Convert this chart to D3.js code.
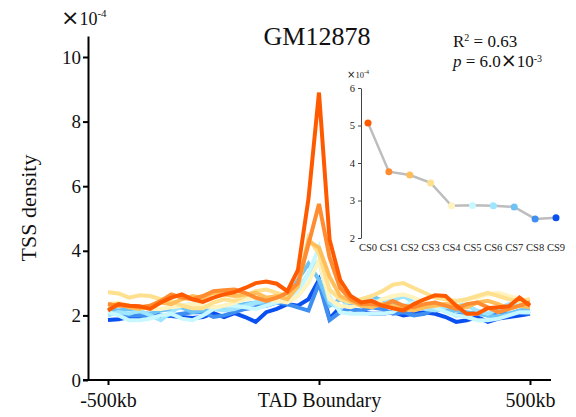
<!DOCTYPE html>
<html>
<head>
<meta charset="utf-8">
<script src="https://cdn.jsdelivr.net/npm/d3@7"></script>
<style>
  body { margin: 0; background: #fff; }
  svg { display: block; font-family: "Liberation Serif", "Times New Roman", serif; }
</style>
</head>
<body>
<svg width="576" height="417"></svg>
<script>
// TSS density profiles around TAD boundaries (x1e-4), 41 bins from -500kb to 500kb
const states = ['CS0', 'CS1', 'CS2', 'CS3', 'CS4', 'CS5', 'CS6', 'CS7', 'CS8', 'CS9'];
const stateColors = ['#ff5a00', '#ff8c30', '#ffbe5a', '#ffe08f', '#fff3c0',
                     '#c8f8ff', '#9ee6ff', '#6ec3f5', '#3f8ff2', '#0a50f0'];
const xTickLabels = ['-500kb', 'TAD Boundary', '500kb'];
const yTicks = [0, 2, 4, 6, 8, 10];

const cs0 = [2.15,2.35,2.3,2.28,2.2,2.4,2.55,2.65,2.5,2.42,2.55,2.65,2.72,2.85,3.0,3.05,2.98,2.75,3.4,5.6,8.9,4.35,3.1,2.6,2.4,2.45,2.3,2.22,2.15,2.35,2.5,2.62,2.6,2.3,2.05,2.05,2.22,2.25,2.28,2.55,2.3];
const cs1 = [2.35,2.3,2.3,2.25,2.3,2.45,2.65,2.55,2.5,2.6,2.75,2.78,2.8,2.7,2.55,2.45,2.55,2.7,3.0,4.2,5.45,3.8,2.85,2.5,2.35,2.35,2.3,2.45,2.3,2.25,2.35,2.4,2.3,2.2,2.35,2.4,2.25,2.1,2.2,2.3,2.4];
const cs2 = [2.3,2.35,2.25,2.2,2.3,2.4,2.35,2.5,2.6,2.55,2.7,2.65,2.6,2.65,2.7,2.55,2.6,2.5,2.9,4.3,4.1,3.2,2.6,2.45,2.3,2.25,2.35,2.3,2.2,2.15,2.25,2.3,2.35,2.3,2.25,2.4,2.45,2.35,2.2,2.3,2.25];
const cs3 = [2.72,2.68,2.55,2.62,2.6,2.5,2.45,2.3,2.22,2.22,2.4,2.5,2.45,2.6,2.75,2.8,2.7,2.6,2.9,4.4,3.9,2.8,2.5,2.4,2.5,2.6,2.75,2.95,3.0,2.85,2.7,2.55,2.5,2.45,2.5,2.6,2.7,2.6,2.5,2.45,2.5];
const cs4 = [2.35,2.4,2.3,2.25,2.2,2.2,2.25,2.3,2.35,2.3,2.25,2.3,2.4,2.5,2.55,2.5,2.45,2.4,2.6,3.0,3.7,2.5,2.3,2.25,2.35,2.3,2.5,2.6,2.65,2.55,2.4,2.3,2.35,2.4,2.5,2.55,2.65,2.7,2.6,2.5,2.45];
const cs5 = [2.1,2.0,1.85,1.85,1.9,2.0,2.05,1.9,1.85,2.0,2.2,2.3,2.3,2.25,2.2,2.3,2.4,2.55,2.7,3.3,4.1,2.6,2.1,2.05,2.05,2.05,2.05,2.1,2.3,2.4,2.35,2.25,2.1,2.0,1.95,1.85,1.85,1.9,2.0,2.1,2.1];
const cs6 = [2.0,2.1,2.05,2.15,2.0,1.85,2.1,2.3,2.35,2.3,2.2,2.15,2.2,2.3,2.4,2.45,2.5,2.6,2.8,3.3,3.7,2.4,2.2,2.5,2.3,2.4,2.5,2.45,2.6,2.4,2.2,2.15,2.25,2.4,2.3,2.15,2.05,2.2,2.35,2.3,2.4];
const cs7 = [2.2,2.15,2.2,2.1,2.05,2.15,2.2,2.25,2.1,2.15,2.2,2.25,2.3,2.35,2.4,2.35,2.4,2.5,3.1,3.6,3.1,2.3,2.5,2.35,2.45,2.6,2.45,2.4,2.3,2.2,2.25,2.3,2.2,2.15,2.1,2.05,2.0,1.95,2.05,2.15,2.2];
const cs8 = [2.05,2.05,2.0,2.0,1.95,2.0,2.0,2.05,2.1,2.1,1.95,2.0,2.1,2.2,2.25,2.3,2.4,2.35,2.25,2.15,3.0,1.85,2.1,2.2,2.15,2.25,2.2,2.05,2.1,2.0,2.05,2.2,2.15,2.0,2.05,2.1,2.0,2.1,2.05,2.1,2.05];
const cs9 = [1.86,1.88,1.95,1.95,2.05,2.0,1.98,1.95,1.92,1.95,2.07,1.95,2.07,1.95,1.8,2.1,2.2,2.35,2.3,2.5,3.1,1.9,2.25,2.2,2.1,2.05,2.05,2.1,2.0,2.05,2.1,2.05,1.95,1.8,1.85,1.95,1.8,1.9,1.95,2.0,2.05];
const profiles = [cs0, cs1, cs2, cs3, cs4, cs5, cs6, cs7, cs8, cs9];

// inset: mean TSS density per chromatin state (x1e-4)
const insetValues = [5.07, 3.77, 3.68, 3.47, 2.86, 2.87, 2.86, 2.83, 2.51, 2.54];
const insetTicks = [2, 3, 4, 5, 6];

const serif = '"Liberation Serif", "Times New Roman", serif';
const svg = d3.select('svg');

const x = d3.scaleLinear().domain([0, 40]).range([108, 530]);
const y = d3.scaleLinear().domain([0, 10.65]).range([380, 36]);

// profile lines, lowest state first so CS0 ends on top
const line = d3.line()
    .x((d, i) => x(i))
    .y(d => y(d));

svg.append('g')
    .selectAll('path')
    .data(profiles.map((p, i) => ({ values: p, color: stateColors[i] })).reverse())
    .enter().append('path')
    .attr('d', d => line(d.values))
    .attr('fill', 'none')
    .attr('stroke', d => d.color)
    .attr('stroke-width', 4)
    .attr('stroke-linejoin', 'miter');

// axes
const xAxis = svg.append('g')
    .attr('transform', 'translate(0,380)')
    .call(d3.axisBottom(x)
        .tickValues([0, 20, 40])
        .tickFormat((d, i) => xTickLabels[i])
        .tickSize(5)
        .tickSizeOuter(0));
xAxis.select('.domain').attr('d', 'M83,0H551');
xAxis.selectAll('line, path').attr('stroke', '#000').attr('stroke-width', 2);
xAxis.attr('font-family', serif);
xAxis.selectAll('text')
    .attr('font-size', 20)
    .attr('fill', '#111')
    .attr('dy', '0.95em');

const yAxis = svg.append('g')
    .attr('transform', 'translate(88,0)')
    .call(d3.axisLeft(y)
        .tickValues(yTicks)
        .tickFormat(d3.format('d'))
        .tickSize(5)
        .tickSizeOuter(0));
yAxis.selectAll('line, path').attr('stroke', '#000').attr('stroke-width', 2);
yAxis.attr('font-family', serif);
yAxis.selectAll('text')
    .attr('font-size', 19)
    .attr('fill', '#111')
    .attr('x', -7);

// labels
svg.append('text')
    .attr('x', 317).attr('y', 45)
    .attr('text-anchor', 'middle')
    .attr('font-size', 26)
    .attr('fill', '#111')
    .text('GM12878');

svg.append('text')
    .attr('transform', 'translate(36,208) rotate(-90)')
    .attr('text-anchor', 'middle')
    .attr('font-size', 22)
    .attr('fill', '#111')
    .text('TSS density');

const expo = svg.append('text')
    .attr('x', 61).attr('y', 25)
    .attr('font-size', 18)
    .attr('fill', '#111');
expo.append('tspan').attr('font-family', '"DejaVu Sans", sans-serif').attr('font-size', 22).text('×');
expo.append('tspan').text('10');
expo.append('tspan').attr('font-size', 11).attr('dy', -8).text('-4');

const r2 = svg.append('text')
    .attr('x', 453).attr('y', 47)
    .attr('font-size', 17)
    .attr('fill', '#111');
r2.append('tspan').text('R');
r2.append('tspan').attr('font-size', 10).attr('dy', -6).text('2');
r2.append('tspan').attr('dy', 6).text(' = 0.63');

const pv = svg.append('text')
    .attr('x', 453).attr('y', 67)
    .attr('font-size', 17)
    .attr('fill', '#111');
pv.append('tspan').attr('font-style', 'italic').text('p');
pv.append('tspan').text(' = 6.0');
pv.append('tspan').attr('font-family', '"DejaVu Sans", sans-serif').attr('font-size', 19).text('×');
pv.append('tspan').text('10');
pv.append('tspan').attr('font-size', 10).attr('dy', -5).text('-3');

// inset
const xi = d3.scalePoint().domain(states).range([368, 556]);
const yi = d3.scaleLinear().domain([2, 6]).range([238, 88]);

const inset = svg.append('g').attr('font-family', serif);

const yiAxis = inset.append('g')
    .attr('transform', 'translate(361,0)')
    .call(d3.axisLeft(yi)
        .tickValues(insetTicks)
        .tickFormat(d3.format('d'))
        .tickSize(3)
        .tickSizeOuter(0));
yiAxis.attr('font-family', serif);
yiAxis.selectAll('line, path').attr('stroke', '#444').attr('stroke-width', 1);
yiAxis.selectAll('text')
    .attr('font-size', 10.5)
    .attr('fill', '#222');

inset.selectAll('text.cs')
    .data(states)
    .enter().append('text')
    .attr('class', 'cs')
    .attr('x', d => xi(d))
    .attr('y', 251)
    .attr('text-anchor', 'middle')
    .attr('font-size', 10.5)
    .attr('fill', '#222')
    .text(d => d);

const iexp = inset.append('text')
    .attr('x', 347).attr('y', 78)
    .attr('font-size', 8.5)
    .attr('fill', '#222');
iexp.append('tspan').attr('font-family', '"DejaVu Sans", sans-serif').attr('font-size', 10).text('×');
iexp.append('tspan').text('10');
iexp.append('tspan').attr('font-size', 6).attr('dy', -4).text('-4');

inset.append('path')
    .datum(insetValues)
    .attr('d', d3.line().x((d, i) => xi(states[i])).y(d => yi(d)))
    .attr('fill', 'none')
    .attr('stroke', '#bdbdbd')
    .attr('stroke-width', 2.5);

inset.selectAll('circle')
    .data(insetValues)
    .enter().append('circle')
    .attr('cx', (d, i) => xi(states[i]))
    .attr('cy', d => yi(d))
    .attr('r', 3.5)
    .attr('fill', (d, i) => stateColors[i]);
</script>
</body>
</html>
